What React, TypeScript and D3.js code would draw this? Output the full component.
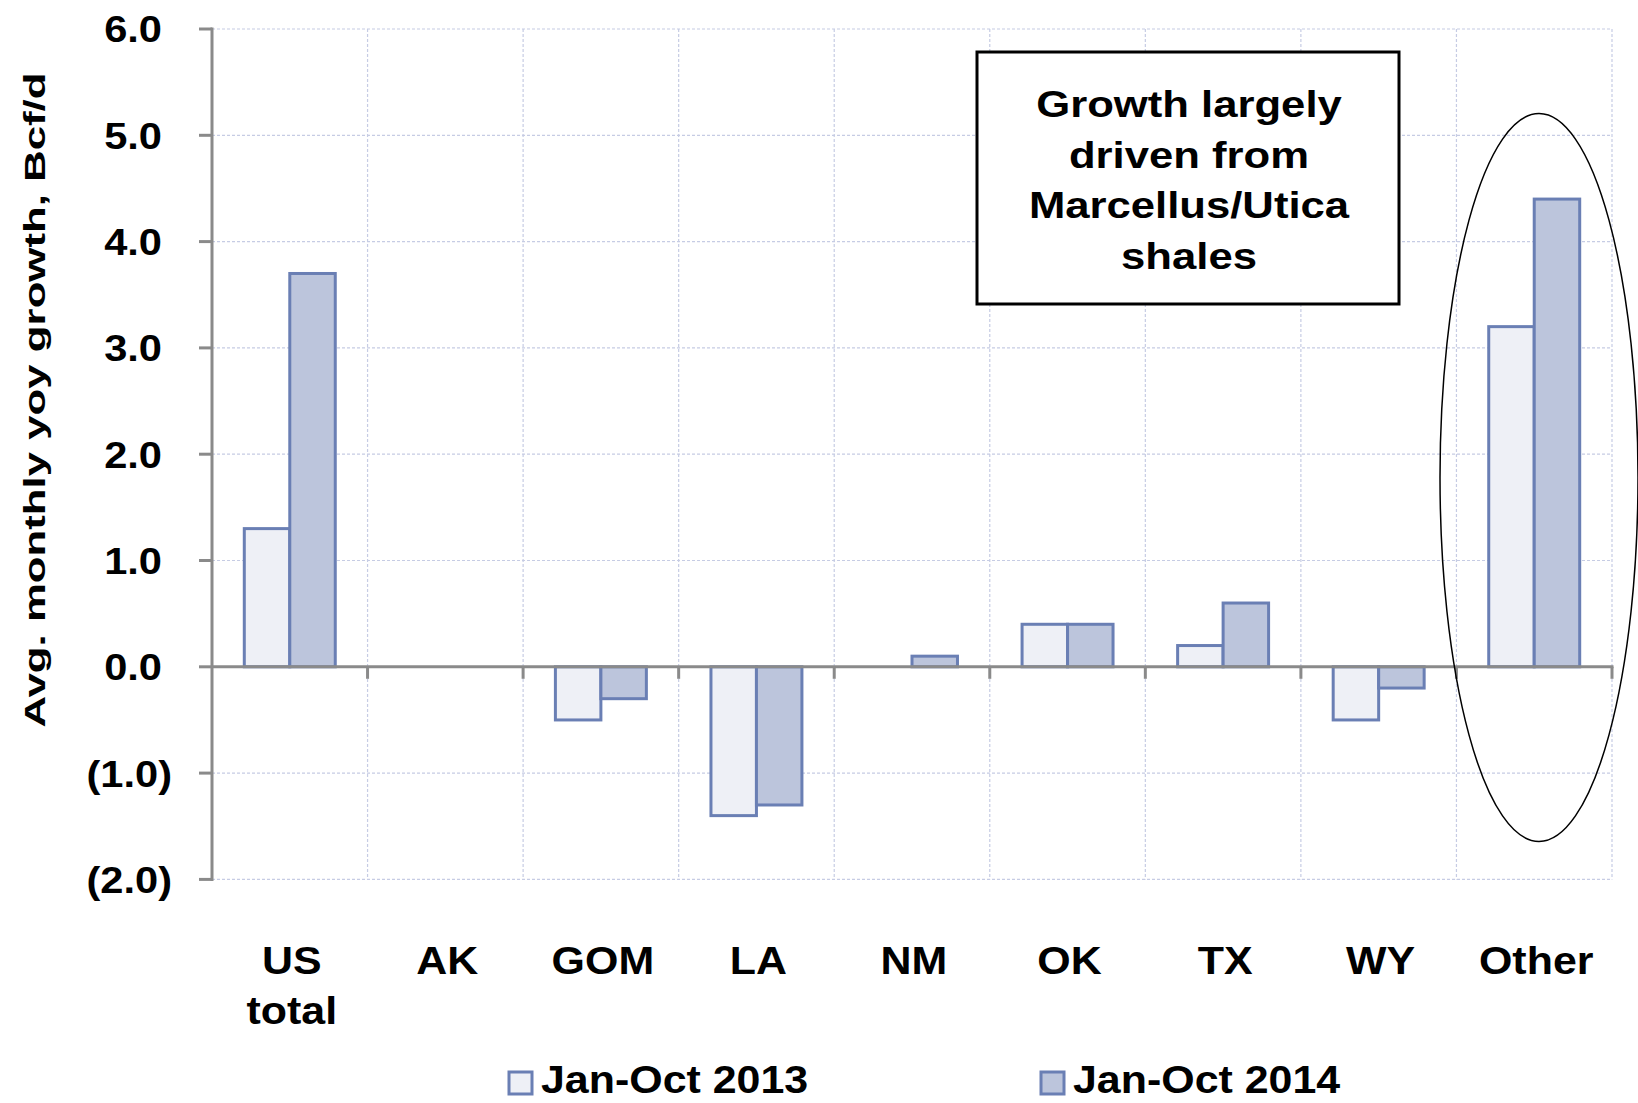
import React from "react";
import * as d3 from "d3";

const categories = ["US total", "AK", "GOM", "LA", "NM", "OK", "TX", "WY", "Other"];
const seriesNames = ["Jan-Oct 2013", "Jan-Oct 2014"];
const values2013 = [1.3, 0, -0.5, -1.4, 0, 0.4, 0.2, -0.5, 3.2];
const values2014 = [3.7, 0, -0.3, -1.3, 0.1, 0.4, 0.6, -0.2, 4.4];
const yTicks = [-2, -1, 0, 1, 2, 3, 4, 5, 6];
const yTitle = "Avg. monthly yoy growth, Bcf/d";
const annotationLines = ["Growth largely", "driven from", "Marcellus/Utica", "shales"];

const W = 1638;
const H = 1103;
const FONT = "'Liberation Sans', Arial, Helvetica, sans-serif";
const STROKE = "#6a7fb4";
const FILLS = ["#eef0f6", "#bcc5dc"];
const AXIS = "#8a8a8a";
const GRID = "#c6cce4";

function SText({ x, y, sx = 1, size, anchor = "start", rotate = 0, children }: any) {
  return (
    <g transform={`translate(${x},${y}) rotate(${rotate}) scale(${sx},1)`}>
      <text textAnchor={anchor} fontSize={size} fontWeight="bold" fontFamily={FONT} fill="#000">
        {children}
      </text>
    </g>
  );
}

export default function App() {
  const left = 212;
  const right = 1612;
  const top = 29;
  const bottom = 879.4;

  const x0 = d3.scaleBand<string>().domain(categories).range([left, right]).padding(0);
  const x1 = d3
    .scaleBand<string>()
    .domain(seriesNames)
    .range([0, x0.bandwidth()])
    .paddingInner(0)
    .paddingOuter(0.71);
  const y = d3.scaleLinear().domain([-2, 6]).range([bottom, top]);
  const y0 = y(0);

  const series = [values2013, values2014];
  const boundaries = categories.map((c) => x0(c)!).concat([right]);

  const fmt = (v: number) => (v < 0 ? `(${Math.abs(v).toFixed(1)})` : v.toFixed(1));

  return (
    <svg
      width={W}
      height={H}
      style={{ position: "absolute", left: 0, top: 0, background: "#fff" }}
    >
      <rect x={0} y={0} width={W} height={H} fill="#fff" />
      {/* horizontal gridlines */}
      {yTicks.map((t) => (
        <line
          key={"hg" + t}
          x1={left}
          x2={right}
          y1={y(t)}
          y2={y(t)}
          stroke={GRID}
          strokeWidth={1.2}
          strokeDasharray="3,2"
        />
      ))}
      {/* vertical gridlines */}
      {boundaries.slice(1).map((bx, i) => (
        <line
          key={"vg" + i}
          x1={bx}
          x2={bx}
          y1={top}
          y2={bottom}
          stroke={GRID}
          strokeWidth={1.2}
          strokeDasharray="3,2"
        />
      ))}

      {/* bars */}
      {categories.map((c, ci) =>
        series.map((vals, si) => {
          const v = vals[ci];
          if (v === 0) return null;
          const bx = x0(c)! + x1(seriesNames[si])!;
          const yy = v >= 0 ? y(v) : y0;
          const h = Math.abs(y(v) - y0);
          return (
            <rect
              key={c + si}
              x={bx}
              y={yy}
              width={x1.bandwidth()}
              height={h}
              fill={FILLS[si]}
              stroke={STROKE}
              strokeWidth={3}
            />
          );
        })
      )}

      {/* y axis */}
      <line x1={left} x2={left} y1={top - 1.5} y2={bottom + 1.5} stroke={AXIS} strokeWidth={3} />
      {yTicks.map((t) => (
        <line key={"yt" + t} x1={left - 13} x2={left} y1={y(t)} y2={y(t)} stroke={AXIS} strokeWidth={3} />
      ))}
      {yTicks.map((t) => (
        <SText key={"yl" + t} x={t < 0 ? 172 : 162} y={y(t) + 13.4} sx={1.11} size={37.5} anchor="end">
          {fmt(t)}
        </SText>
      ))}

      {/* x axis at zero */}
      <line x1={left} x2={right + 1.5} y1={y0} y2={y0} stroke={AXIS} strokeWidth={3} />
      {boundaries.slice(1).map((bx, i) => (
        <line key={"xt" + i} x1={bx} x2={bx} y1={y0} y2={y0 + 12} stroke={AXIS} strokeWidth={3} />
      ))}

      {/* category labels */}
      {categories.map((c) => {
        const cx = x0(c)! + x0.bandwidth() / 2 + 2;
        const parts = c === "US total" ? ["US", "total"] : [c];
        return parts.map((p, pi) => (
          <SText key={c + pi} x={cx} y={974 + pi * 50} sx={1.13} size={38} anchor="middle">
            {p}
          </SText>
        ));
      })}

      {/* y title */}
      <SText x={45} y={400} sx={1.46} size={30} anchor="middle" rotate={-90}>
        {yTitle}
      </SText>

      {/* annotation box */}
      <rect x={977} y={52} width={422} height={252} fill="#fff" stroke="#000" strokeWidth={3} />
      {annotationLines.map((l, i) => (
        <SText key={"an" + i} x={1189} y={117 + i * 50.5} sx={1.18} size={37} anchor="middle">
          {l}
        </SText>
      ))}

      {/* ellipse */}
      <ellipse cx={1539} cy={477.5} rx={99} ry={364} fill="none" stroke="#000" strokeWidth={1.5} />

      {/* legend */}
      {seriesNames.map((s, i) => {
        const lx = i === 0 ? 509 : 1041;
        return (
          <g key={"lg" + i}>
            <rect x={lx} y={1072} width={23} height={22} fill={FILLS[i]} stroke={STROKE} strokeWidth={3} />
            <SText x={lx + 32} y={1093} sx={1.13} size={38}>
              {s}
            </SText>
          </g>
        );
      })}
    </svg>
  );
}
